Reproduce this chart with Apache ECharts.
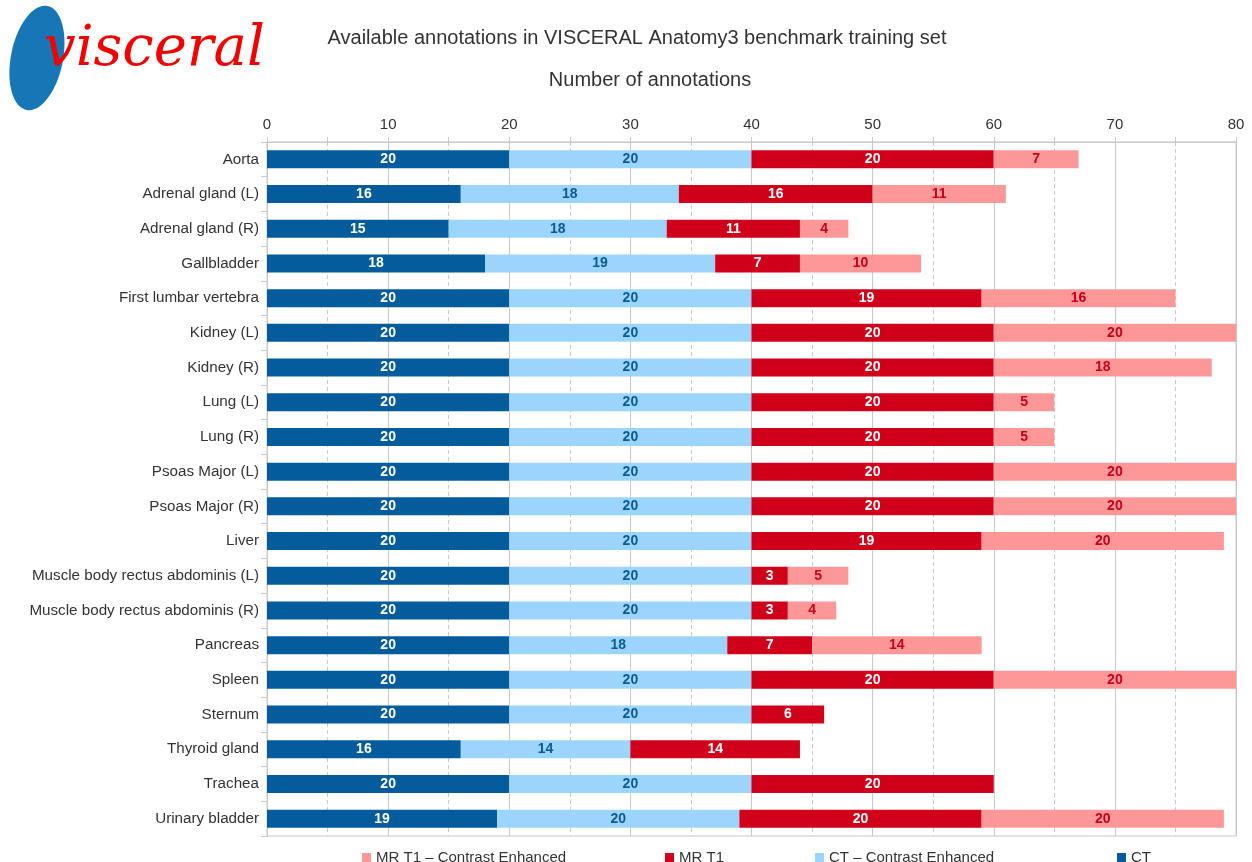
<!DOCTYPE html>
<html lang="en">
<head>
    <meta http-equiv="Content-Type" content="text/html; charset=utf-8"/>
    <title>VISCERAL Anatomy3 annotations</title>
    <script type="text/javascript" src="https://cdn.jsdelivr.net/npm/echarts@6/dist/echarts.min.js"></script>
</head>
<style>
    * { margin: 0; padding: 0; }
    html, body { width: 100%; height: 100%; background: #fff; }
    .main { width: 1252px; height: 862px; }
</style>
<body>
<div id="main" class="main"></div>
</body>
<script type="text/javascript">
    // 器官名称
    var organs = ['Aorta', 'Adrenal gland (L)', 'Adrenal gland (R)', 'Gallbladder', 'First lumbar vertebra',
        'Kidney (L)', 'Kidney (R)', 'Lung (L)', 'Lung (R)', 'Psoas Major (L)', 'Psoas Major (R)', 'Liver',
        'Muscle body rectus abdominis (L)', 'Muscle body rectus abdominis (R)', 'Pancreas', 'Spleen',
        'Sternum', 'Thyroid gland', 'Trachea', 'Urinary bladder'];
    var ct     = [20, 16, 15, 18, 20, 20, 20, 20, 20, 20, 20, 20, 20, 20, 20, 20, 20, 16, 20, 19];
    var ctCE   = [20, 18, 18, 19, 20, 20, 20, 20, 20, 20, 20, 20, 20, 20, 18, 20, 20, 14, 20, 20];
    var mrT1   = [20, 16, 11, 7, 19, 20, 20, 20, 20, 20, 20, 19, 3, 3, 7, 20, 6, 14, 20, 20];
    var mrT1CE = [7, 11, 4, 10, 16, 20, 18, 5, 5, 20, 20, 20, 5, 4, 14, 20, 0, 0, 0, 20];
    var seriesNames = ['CT', 'CT – Contrast Enhanced', 'MR T1', 'MR T1 – Contrast Enhanced'];
    var xTicks = [0, 10, 20, 30, 40, 50, 60, 70, 80];

    var colors = ['#045c9c', '#9bd4fd', '#d1001a', '#fe9898'];
    var labelColors = ['#ffffff', '#0b5a96', '#ffffff', '#c4001a'];
    var allData = [ct, ctCE, mrT1, mrT1CE];

    var series = allData.map(function (arr, i) {
        return {
            name: seriesNames[i],
            type: 'bar',
            stack: 'total',
            barWidth: 18,
            itemStyle: { color: colors[i] },
            label: {
                show: true,
                position: 'inside',
                color: labelColors[i],
                fontFamily: 'Liberation Sans',
                fontWeight: 'bold',
                fontSize: 14,
                formatter: function (p) { return p.value ? p.value : ''; }
            },
            data: arr.map(function (v) { return v === 0 ? null : v; })
        };
    });

    // 图例：每项单独定位
    var legendOrder = ['MR T1 – Contrast Enhanced', 'MR T1', 'CT – Contrast Enhanced', 'CT'];
    var legendLeft = [357, 660, 810, 1112];
    var legends = legendOrder.map(function (name, i) {
        return {
            top: 845, left: legendLeft[i],
            itemWidth: 9, itemHeight: 9, icon: 'rect', itemGap: 4,
            data: [name],
            textStyle: { fontSize: 15, color: '#333', fontFamily: 'Liberation Sans' }
        };
    });

    var chart = echarts.init(document.getElementById('main'));
    chart.setOption({
        backgroundColor: '#fff',
        animation: false,
        color: colors,
        textStyle: { fontFamily: 'Liberation Sans' },
        title: [
            {
                text: 'Available annotations in VISCERAL Anatomy3 benchmark training set',
                left: 632, top: 23, textAlign: 'center',
                textStyle: { fontSize: 20, fontWeight: 'normal', color: '#333', fontFamily: 'Liberation Sans' }
            },
            {
                text: 'Number of annotations',
                left: 645, top: 65, textAlign: 'center',
                textStyle: { fontSize: 20, fontWeight: 'normal', color: '#333', fontFamily: 'Liberation Sans' }
            }
        ],
        graphic: [
            {   // logo 蓝色部分
                type: 'ellipse', shape: { cx: 37, cy: 58, rx: 26, ry: 53 },
                rotation: -0.2, originX: 37, originY: 58,
                style: { fill: '#1676b6' }
            },
            {
                type: 'text', left: 44, top: 22,
                style: { text: 'visceral', fill: '#f20000', font: 'italic 56px "DejaVu Serif"' }
            }
        ],
        legend: legends,
        grid: {
            left: 267, right: 16, top: 142, bottom: 26,
            show: true, borderColor: '#c8c8c8', borderWidth: 1
        },
        xAxis: {
            type: 'value',
            position: 'top',
            min: 0, max: 80, interval: 10,
            axisLine: { show: true, lineStyle: { color: '#c8c8c8' } },
            axisTick: { show: true, length: 5, lineStyle: { color: '#c8c8c8' } },
            minorTick: { show: true, splitNumber: 2, length: 5, lineStyle: { color: '#c8c8c8' } },
            axisLabel: {
                color: '#333', fontSize: 15, margin: 10,
                formatter: function (v) { return xTicks.indexOf(v) >= 0 ? v : ''; }
            },
            splitLine: { show: true, lineStyle: { color: '#c8c8c8' } },
            minorSplitLine: { show: true, lineStyle: { color: '#c8c8c8', type: [4, 3] } }
        },
        yAxis: {
            type: 'category',
            inverse: true,
            data: organs,
            axisLine: { show: true, lineStyle: { color: '#c8c8c8' } },
            axisTick: { show: true, length: 6, lineStyle: { color: '#c8c8c8' } },
            axisLabel: { color: '#333', fontSize: 15.2, margin: 8 }
        },
        series: series
    });
</script>

</html>
